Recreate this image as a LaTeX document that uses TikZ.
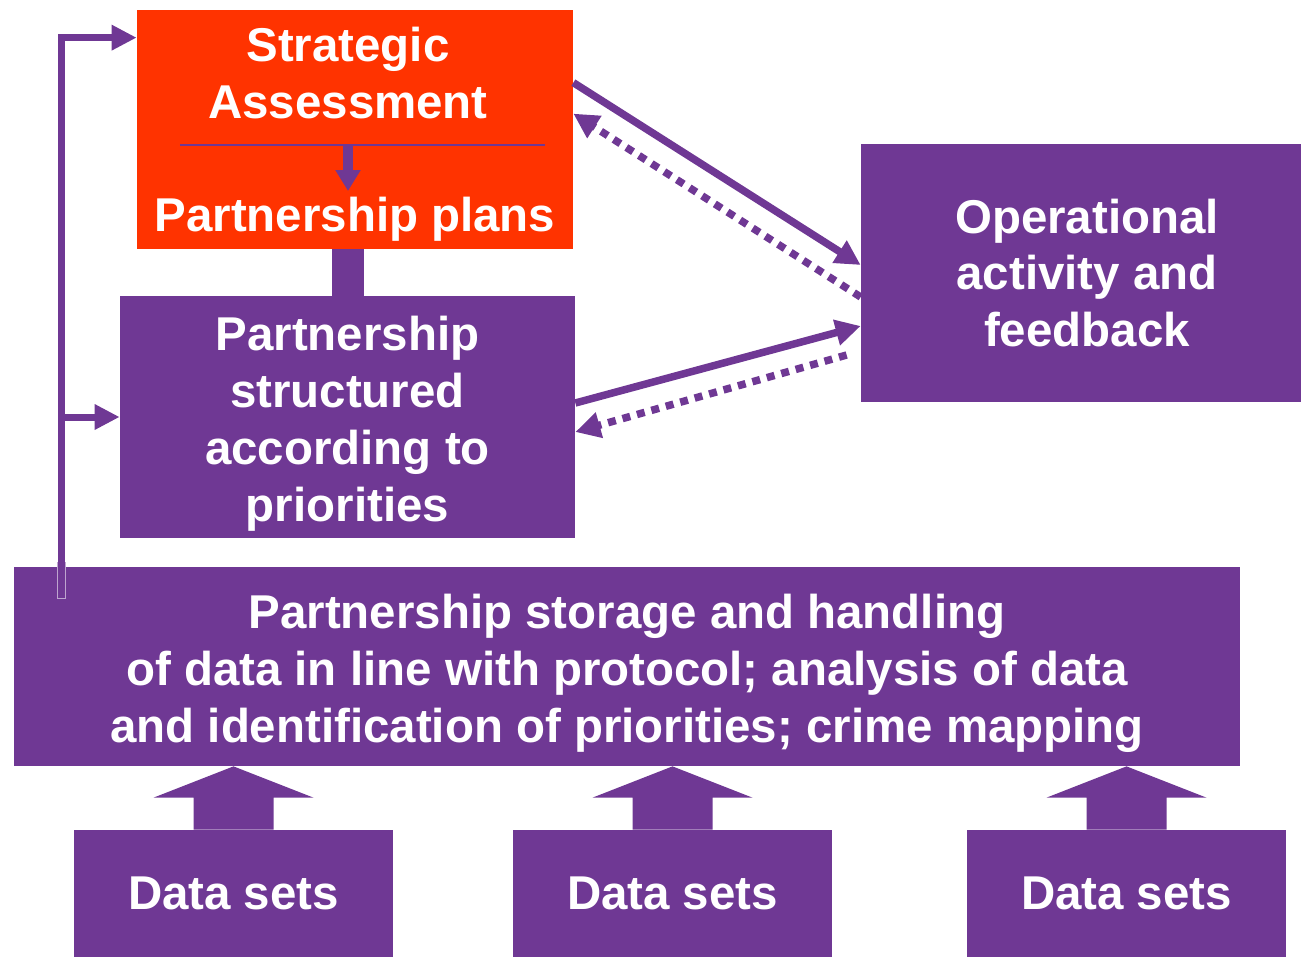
\documentclass[tikz,border=0pt]{standalone}
\usepackage{fontspec}
\setmainfont{Liberation Sans}
\usetikzlibrary{arrows.meta,calc}

\definecolor{purp}{RGB}{111,56,148}
\definecolor{orng}{RGB}{255,51,0}

\tikzset{
  box/.style={fill=purp, inner sep=0pt, text=white, align=center,
    font=\fontsize{27}{32.4}\selectfont\bfseries},
  link/.style={purp, line width=0.15cm, -{Triangle[width=0.5cm,length=0.5cm]}},
  backlink/.style={link, dash pattern=on 0.16cm off 0.14cm},
  fbline/.style={purp, line width=0.14cm}
}

\begin{document}
\begin{tikzpicture}
    \useasboundingbox (0,0) rectangle (26.02,-19.14);

    \node[box, fill=orng, minimum width=8.72cm, minimum height=4.78cm] (sa) at (7.10,-2.59) {};
    \node[box, fill=none] (satxt) at (6.96,-1.47) {Strategic\\Assessment};
    \node[box, fill=none] (pp) at (7.10,-4.38) {Partnership plans};
    \node[box, minimum width=9.10cm, minimum height=4.84cm] (ps) at (6.95,-8.34)
      {\rule{0pt}{0.95cm}Partnership\\structured\\according to\\priorities};
    \node[box, minimum width=8.80cm, minimum height=5.16cm] (op) at (21.62,-5.46)
      {\hspace*{0.24cm}Operational\\\hspace*{0.24cm}activity and\\\hspace*{0.24cm}feedback};
    \node[box, minimum width=24.52cm, minimum height=3.98cm] (st) at (12.54,-13.33)
      {\rule{0pt}{0.95cm}Partnership storage and handling\\of data in line with protocol; analysis of data\\and identification of priorities; crime mapping};
    \node[box, minimum width=6.38cm, minimum height=2.54cm] (ds1) at (4.67,-17.87) {Data sets};
    \node[box, minimum width=6.38cm, minimum height=2.54cm] (ds2) at (13.45,-17.87) {Data sets};
    \node[box, minimum width=6.38cm, minimum height=2.54cm] (ds3) at (22.53,-17.87) {Data sets};

    \coordinate (rl) at (3.60,-2.90);
    \coordinate (rr) at (10.90,-2.90);
    \coordinate (rm) at (6.96,-2.90);
    \draw[purp, line width=1pt] (rl) -- (rr);
    \draw[purp, line width=0.2cm, -{Triangle[width=0.48cm,length=0.42cm]}] (rm) -- ++(0,-0.92);

    \draw[purp, line width=0.64cm] ([xshift=-0.14cm]sa.south) -- ([xshift=-0.14cm]sa.south |- ps.north);

    \coordinate (fb) at (1.22,-11.96);
    \draw[purp!45!white, line width=0.18cm] ([yshift=-0.02cm]fb) -- ([yshift=0.1cm]fb |- st.north);
    \draw[fbline, -{Triangle[width=0.48cm,length=0.5cm]}] (fb) |- ([yshift=-0.56cm]sa.north west);
    \draw[fbline, -{Triangle[width=0.48cm,length=0.5cm]}] (fb |- ps.west) -- (ps.west);

    \draw[link] ([yshift=-1.46cm]sa.north east) -- ([yshift=0.16cm]op.west);
    \draw[backlink] ([yshift=-0.48cm]op.west) -- ([yshift=-2.08cm]sa.north east);
    \draw[link] ([yshift=0.28cm]ps.east) -- ([yshift=-1.06cm]op.west);
    \draw[backlink] ([xshift=-0.28cm,yshift=-1.64cm]op.west) -- ([yshift=-0.30cm]ps.east);

    \foreach \d in {ds1,ds2,ds3}
      \fill[purp] ([xshift=-0.8cm]\d.north) -- ++(0,0.64) -- ++(-0.8,0)
        -- (\d.north |- st.south) -- ([xshift=1.6cm,yshift=0.64cm]\d.north)
        -- ++(-0.8,0) -- ([xshift=0.8cm]\d.north) -- cycle;
\end{tikzpicture}
\end{document}
